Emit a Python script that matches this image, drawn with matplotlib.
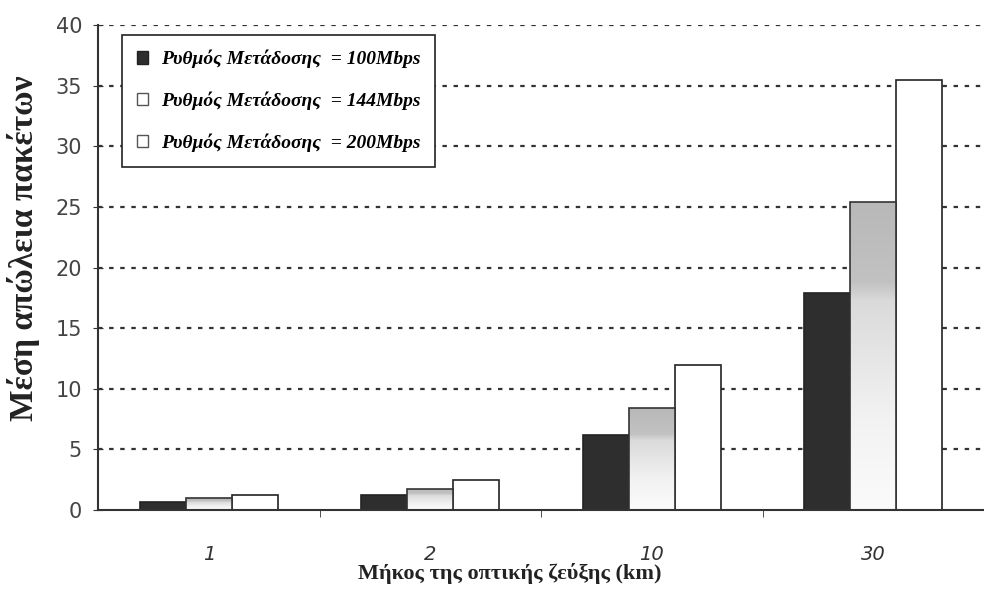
import numpy as np
import matplotlib.pyplot as plt
from matplotlib.patches import Patch

# values
categories = ["1", "2", "10", "30"]
rate_100 = [0.7, 1.2, 6.2, 17.9]
rate_144 = [0.95, 1.75, 8.45, 25.4]
rate_200 = [1.2, 2.45, 11.95, 35.45]
series_labels = ["Ρυθμός Μετάδοσης  = 100Mbps",
                 "Ρυθμός Μετάδοσης  = 144Mbps",
                 "Ρυθμός Μετάδοσης  = 200Mbps"]
yticks = [0, 5, 10, 15, 20, 25, 30, 35, 40]

fig = plt.figure(figsize=(9.84, 5.93), dpi=100)
ax = fig.add_axes([98 / 984, 1 - 510 / 593, 886 / 984, 485 / 593])

x = np.arange(len(categories))
w = 0.207

# grid first so bars sit on top
for t in yticks[1:]:
    ax.axhline(t, color="#333333", lw=1.6, ls=(0, (2, 3)), zorder=0)

ax.bar(x - w, rate_100, w, color="#2e2e2e", edgecolor="#222222", lw=1.2, zorder=2)
bars144 = ax.bar(x, rate_144, w, color="none", edgecolor="#333333", lw=1.2, zorder=3)
ax.bar(x + w, rate_200, w, color="white", edgecolor="#222222", lw=1.2, zorder=2)

# gray-to-white gradient inside the 144Mbps bars
grad = np.linspace(0, 1, 256).reshape(-1, 1)
cmap = plt.matplotlib.colors.LinearSegmentedColormap.from_list(
    "g", [(0, "#fbfbfb"), (0.3, "#f2f2f2"), (0.68, "#dadada"), (0.74, "#c2c2c2"), (1, "#b8b8b8")])
for b in bars144:
    x0, y0 = b.get_x(), b.get_y()
    im = ax.imshow(grad, extent=(x0, x0 + b.get_width(), y0, y0 + b.get_height()),
                   origin="lower", aspect="auto", cmap=cmap, vmin=0, vmax=1, zorder=2.5)
    im.set_clip_path(b)

ax.set_xlim(-0.5, 3.5)
ax.set_ylim(0, 40)
ax.set_yticks(yticks)
ax.set_xticks(x)
ax.set_xticks(np.arange(0.5, 3.5, 1), minor=True)
ax.set_xticklabels(categories, fontstyle="italic", fontsize=14, color="#333333")
ax.tick_params(axis="x", which="major", length=0, pad=25)
ax.tick_params(axis="x", which="minor", length=5, direction="out", color="#333333")
ax.tick_params(axis="y", length=7, direction="inout", labelsize=15,
               labelcolor="#444444", color="#333333", pad=8)

for s in ["top", "right"]:
    ax.spines[s].set_visible(False)
ax.spines["left"].set_color("#333333")
ax.spines["bottom"].set_color("#333333")
ax.spines["left"].set_linewidth(1.5)
ax.spines["bottom"].set_linewidth(1.5)

ax.set_ylabel("Μέση απώλεια πακέτων", fontsize=24, fontweight="bold",
              family="Liberation Serif", color="#222222")
ax.yaxis.set_label_coords(-0.066, 0.54)
ax.set_xlabel("Μήκος της οπτικής ζεύξης (km)", fontsize=16, fontweight="bold",
              family="Liberation Serif", color="#222222")
ax.xaxis.set_label_coords(0.465, -0.109)

handles = [Patch(facecolor="#2e2e2e", edgecolor="#222222"),
           Patch(facecolor="white", edgecolor="#555555"),
           Patch(facecolor="white", edgecolor="#555555")]
leg = ax.legend(handles, series_labels, loc="upper left", bbox_to_anchor=(0.027, 0.979),
                borderaxespad=0, fancybox=False, framealpha=1, edgecolor="#222222",
                handlelength=0.6, handleheight=0.6, labelspacing=1.2, borderpad=0.75,
                handletextpad=0.65,
                prop={"family": "Liberation Serif", "style": "italic", "weight": "bold", "size": 14})
leg.get_frame().set_linewidth(1.2)

fig.savefig("out.png", dpi=100)
